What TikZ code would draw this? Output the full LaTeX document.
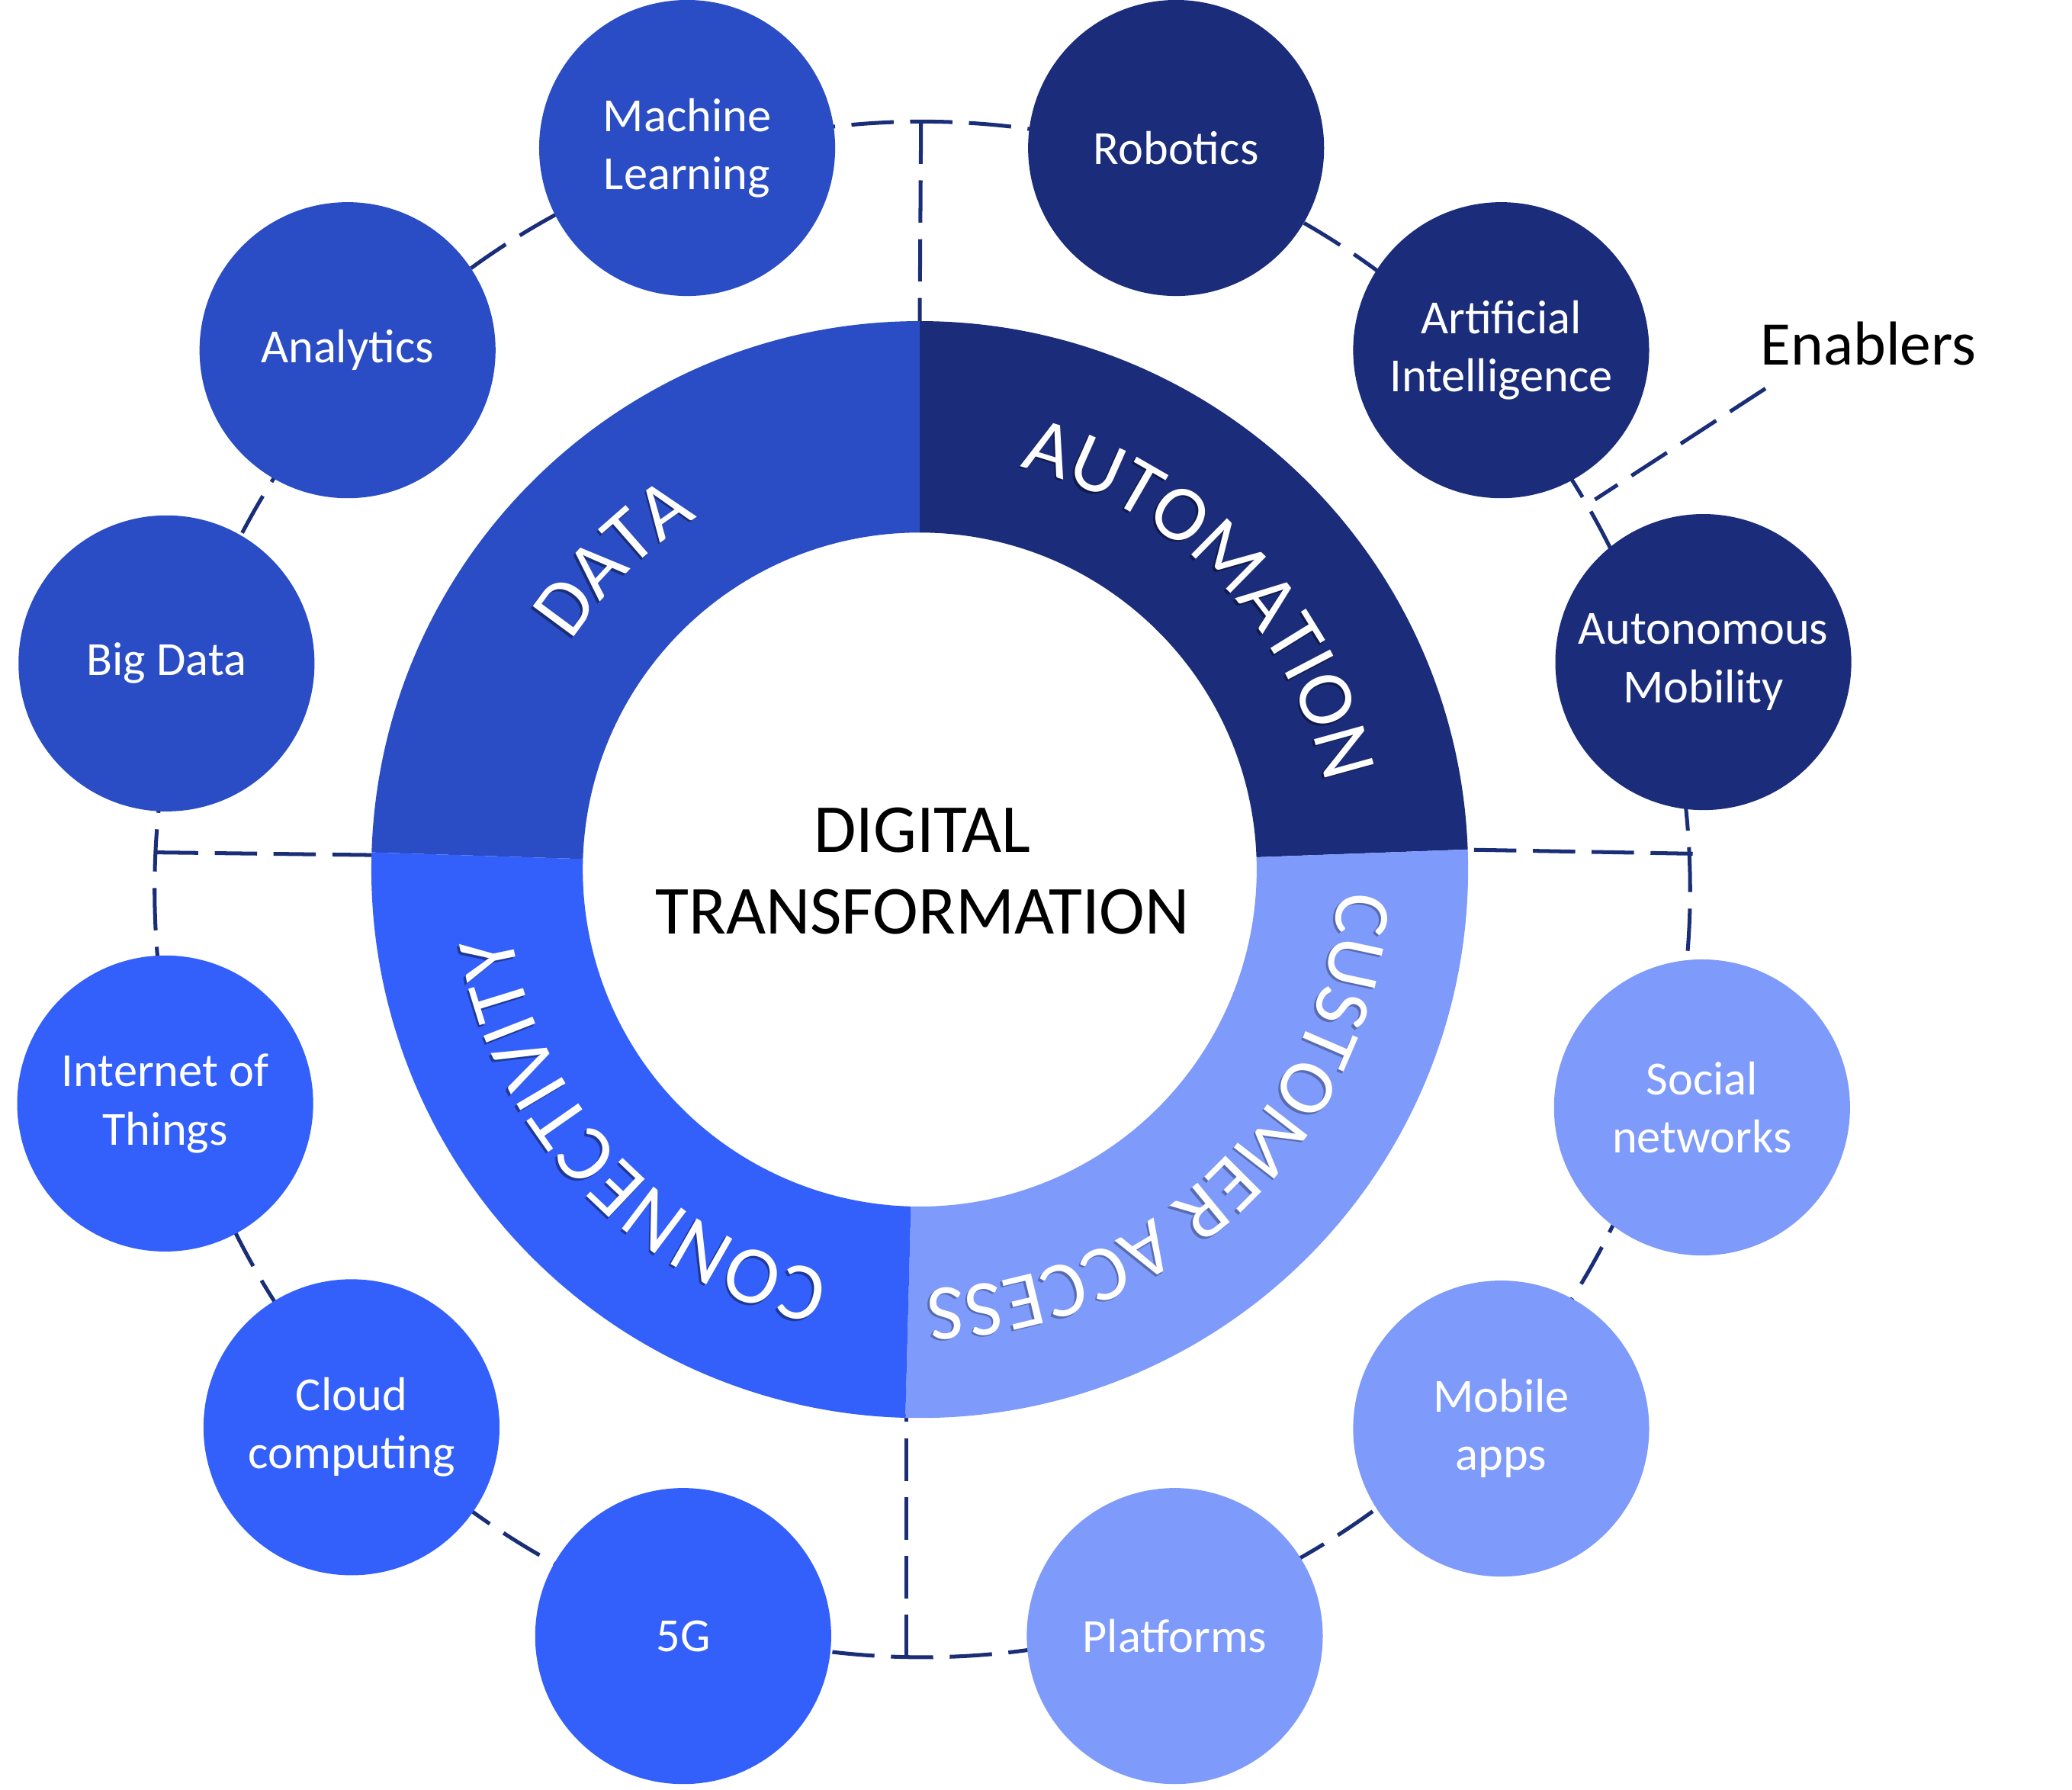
\documentclass[tikz,border=0pt]{standalone}
\usepackage{fontspec}
\setmainfont{Carlito}
\usetikzlibrary{calc,decorations.text}
\definecolor{cdata}{HTML}{2A4DC5}
\definecolor{cauto}{HTML}{1B2D7A}
\definecolor{cconn}{HTML}{335FFA}
\definecolor{ccust}{HTML}{7E9AFA}
\definecolor{cdash}{HTML}{1A2E78}
\newcommand\ringfontA{\fontsize{60}{60}\selectfont}
\newcommand\ringfontB{\fontsize{60}{60}\selectfont}
\newcommand\ringfontC{\fontsize{62}{62}\selectfont}
\begin{document}
\begin{tikzpicture}[x=1pt,y=1pt,
  dashline/.style={draw=cdash, line width=2.9pt, dash pattern=on 32pt off 12.5pt},
  bub/.style={circle, minimum size=224pt, inner sep=0pt, text=white, align=center,
              font=\fontsize{36}{44}\selectfont}]
\useasboundingbox (0,0) rectangle (1568,1354);
\fill[white] (0,0) rectangle (1568,1354);

% centres
\coordinate (C) at (696,696);
\coordinate (D) at (698,681);

% spoke end points
\coordinate (t1) at (696,1111); \coordinate (t2) at (697,1262);
\coordinate (b1) at (686,284);  \coordinate (b2) at (686,100);
\coordinate (l1) at (281,707);  \coordinate (l2) at (118,709);
\coordinate (r1) at (1113,711); \coordinate (r2) at (1281,708);
\coordinate (e1) at (1336,1060); \coordinate (e2) at (1207,976);

% dashed outer circle and spokes
\draw[dashline] (D) circle[radius=581];
\draw[dashline] (t2) -- (t1);
\draw[dashline] (b2) -- (b1);
\draw[dashline] (l2) -- (l1);
\draw[dashline] (r2) -- (r1);
\draw[dashline] (e1) -- (e2);

% ring sectors
\fill[cdata] ($(C)+(90:415)$) arc[start angle=90, end angle=178.2, radius=415]
  -- ($(C)+(178.2:255)$) arc[start angle=178.2, end angle=90, radius=255] -- cycle;
\fill[cauto] ($(C)+(2.1:415)$) arc[start angle=2.1, end angle=90, radius=415]
  -- ($(C)+(90:255)$) arc[start angle=90, end angle=2.1, radius=255] -- cycle;
\fill[ccust] ($(C)+(-91.5:415)$) arc[start angle=-91.5, end angle=2.1, radius=415]
  -- ($(C)+(2.1:255)$) arc[start angle=2.1, end angle=-91.5, radius=255] -- cycle;
\fill[cconn] ($(C)+(178.2:415)$) arc[start angle=178.2, end angle=268.5, radius=415]
  -- ($(C)+(268.5:255)$) arc[start angle=268.5, end angle=178.2, radius=255] -- cycle;

% ring labels (shadow then text)
\path[decorate, decoration={text along path, text align=center, text color=cdata!60!black,
  text={|\ringfontA|DATA}}] ($(C)+(-1.5,-1.5)+(194.5:315)$) arc[start angle=194.5, end angle=74.5, radius=315];
\path[decorate, decoration={text along path, text align=center, text color=white,
  text={|\ringfontA|DATA}}] ($(C)+(194.5:315)$) arc[start angle=194.5, end angle=74.5, radius=315];

\path[decorate, decoration={text along path, text align=center, text color=cauto!60!black,
  text={|\ringfontA|AUTOMATION}}] ($(C)+(-1.5,-1.5)+(104:314)$) arc[start angle=104, end angle=-16, radius=314];
\path[decorate, decoration={text along path, text align=center, text color=white,
  text={|\ringfontA|AUTOMATION}}] ($(C)+(104:314)$) arc[start angle=104, end angle=-16, radius=314];

\path[decorate, decoration={text along path, text align=center, text color=ccust!70!black,
  text={|\ringfontB|CUSTOMER ACCESS}}] ($(C)+(-1.5,-1.5)+(14:317)$) arc[start angle=14, end angle=-106, radius=317];
\path[decorate, decoration={text along path, text align=center, text color=white,
  text={|\ringfontB|CUSTOMER ACCESS}}] ($(C)+(14:317)$) arc[start angle=14, end angle=-106, radius=317];

\path[decorate, decoration={text along path, text align=center, text color=cconn!60!black,
  text={|\ringfontC|CONNECTIVITY}}] ($(C)+(-1.5,-1.5)+(283.2:313)$) arc[start angle=283.2, end angle=163.2, radius=313];
\path[decorate, decoration={text along path, text align=center, text color=white,
  text={|\ringfontC|CONNECTIVITY}}] ($(C)+(283.2:313)$) arc[start angle=283.2, end angle=163.2, radius=313];

% centre title
\node[align=center, font=\fontsize{52}{62}\selectfont, inner sep=0pt] (title) at (698,695)
  {DIGITAL\\TRANSFORMATION};

% enabler bubbles
\node[bub, fill=cdata] (ml)  at (520,1242) {Machine\\Learning};
\node[bub, fill=cdata] (an)  at (263,1089) {Analytics};
\node[bub, fill=cdata] (bd)  at (126,852)  {Big Data};
\node[bub, fill=cauto] (rob) at (890,1242) {Robotics};
\node[bub, fill=cauto] (ai)  at (1136,1089) {Artificial\\Intelligence};
\node[bub, fill=cauto] (am)  at (1289,853) {Autonomous\\Mobility};
\node[bub, fill=cconn] (iot) at (125,519)  {Internet of\\Things};
\node[bub, fill=cconn] (cc)  at (266,274)  {Cloud\\computing};
\node[bub, fill=cconn] (fg)  at (517,116)  {5G};
\node[bub, fill=ccust] (sn)  at (1288,516) {Social\\networks};
\node[bub, fill=ccust] (ma)  at (1136,273) {Mobile\\apps};
\node[bub, fill=ccust] (pf)  at (889,116)  {Platforms};

% label
\node[anchor=base, font=\fontsize{47}{56}\selectfont, inner sep=0pt] (en) at (1414,1078) {Enablers};
\end{tikzpicture}
\end{document}
